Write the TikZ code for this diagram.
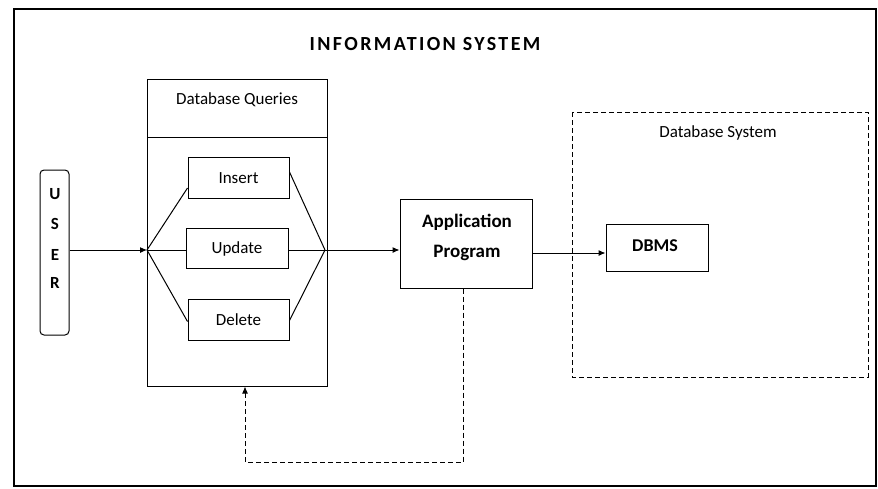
\documentclass[tikz,border=0pt]{standalone}
\usepackage{fontspec}
\setmainfont{Carlito}
\newfontfamily\titlefont[LetterSpace=12]{Carlito}
\usetikzlibrary{arrows.meta}
\begin{document}
\begin{tikzpicture}[x=1pt,y=-1pt,
  box/.style={draw,line width=1pt,inner sep=0pt},
  lbl/.style={inner sep=0pt,anchor=center},
  conn/.style={line width=1pt},
  arr/.style={line width=1pt,-{Latex[length=7pt,width=6pt]}},
  dsh/.style={line width=1pt,dash pattern=on 5pt off 3pt}]
\useasboundingbox (0,0) rectangle (878,488);
\fill[white] (0,0) rectangle (878,488);
% outer frame
\draw[line width=1.2pt] (14,9) rectangle (876,486);
\node[lbl,font=\titlefont\bfseries\fontsize{20}{22}\selectfont] (title) at (425,44) {INFORMATION SYSTEM};
% user
\node[box,rounded corners=4pt,minimum width=29pt,minimum height=165pt] (user) at (54.5,252.5) {};
\node[lbl,font=\bfseries\fontsize{17}{19}\selectfont] (u1) at (55,194) {U};
\node[lbl,font=\bfseries\fontsize{17}{19}\selectfont] (u2) at (55,224) {S};
\node[lbl,font=\bfseries\fontsize{17}{19}\selectfont] (u3) at (55,255) {E};
\node[lbl,font=\bfseries\fontsize{17}{19}\selectfont] (u4) at (55,283) {R};
% database queries
\node[box,minimum width=180pt,minimum height=307pt] (dbq) at (237,232.5) {};
\draw[line width=1pt] (147,137) -- (327,137);
\node[lbl,font=\fontsize{17}{19}\selectfont] (dbqt) at (237,100) {Database Queries};
\node[box,minimum width=101pt,minimum height=41pt,font=\fontsize{17}{19}\selectfont] (ins) at (238.5,178) {Insert};
\node[box,minimum width=102pt,minimum height=40pt,font=\fontsize{17}{19}\selectfont] (upd) at (237,248.5) {Update};
\node[box,minimum width=101pt,minimum height=41pt,font=\fontsize{17}{19}\selectfont] (del) at (238.5,319.5) {Delete};
\coordinate (fl) at (147,250);
\coordinate (fr) at (325,250);
\draw[conn] (fl) -- ([yshift=-10pt]ins.west);
\draw[conn] (fl) -- (upd.west |- fl);
\draw[conn] (fl) -- ([yshift=-2pt]del.west);
\draw[conn] ([yshift=6pt]ins.east) -- (fr);
\draw[conn] (upd.east |- fr) -- (fr);
\draw[conn] ([yshift=-1pt]del.east) -- (fr);
\draw[arr] (user.east |- fl) -- (fl);
% application program
\node[box,minimum width=132pt,minimum height=89pt] (app) at (466,243.5) {};
\node[lbl,font=\bfseries\fontsize{19}{21}\selectfont] (app1) at (467,222) {Application};
\node[lbl,font=\bfseries\fontsize{19}{21}\selectfont] (app2) at (467,253) {Program};
\draw[arr] (fr) -- (app.west |- fr);
% database system
\draw[dsh] (572,112) rectangle (868,377);
\node[lbl,font=\fontsize{17}{19}\selectfont] (dbst) at (718,133) {Database System};
\node[box,minimum width=102pt,minimum height=47pt] (dbms) at (657,247.5) {};
\node[lbl,font=\bfseries\fontsize{18}{20}\selectfont] (dbmst) at (655,246) {DBMS};
\draw[arr] (app.east |- 0,253) -- (dbms.west |- 0,253);
% feedback
\coordinate (fb1) at (463,462);
\coordinate (fb2) at (245,462);
\draw[dsh,-{Latex[length=7pt,width=6pt]}] (app.south -| fb1) -- (fb1) -- (fb2) -- (dbq.south -| fb2);
\end{tikzpicture}
\end{document}
